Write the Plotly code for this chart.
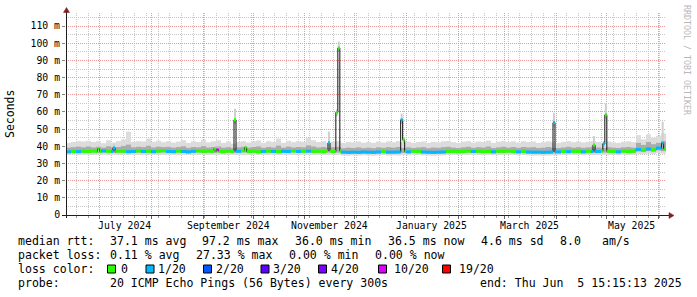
import pandas as pd
import plotly.graph_objects as go

START = pd.Timestamp("2024-06-10 15:15:13")
END = pd.Timestamp("2025-06-05 15:15:13")
BIN = pd.Timedelta(days=3)
SPIKE = pd.Timedelta(hours=28.8)
bin_start = pd.date_range(START, periods=120, freq="3D")

# median rtt per 3-day bin (ms)
med = [36.8, 37.0, 36.9, 37.1, 37.0, 37.2, 37.0, 37.3, 37.1, 37.0,
       37.2, 37.1, 36.9, 37.0, 37.3, 37.0, 37.1, 36.9, 37.2, 37.4,
       37.0, 36.9, 37.2, 37.0, 36.8, 37.1, 37.3, 37.0, 37.2, 37.0,
       37.1, 36.9, 37.2, 37.0, 37.1, 37.4, 37.0, 37.1, 36.9, 37.0,
       37.2, 37.0, 36.9, 37.1, 37.0, 37.3, 37.0, 37.1, 37.2, 37.0,
       37.1, 36.9, 37.2, 37.0, 37.3, 36.6, 36.5, 36.6, 36.5, 36.7,
       36.6, 36.5, 36.7, 36.9, 36.6, 36.6, 36.7, 37.0, 36.8, 37.1,
       37.0, 36.7, 36.6, 36.5, 36.6, 36.7, 37.0, 37.1, 36.9, 37.0,
       37.2, 37.0, 37.1, 36.9, 37.0, 36.8, 37.1, 37.0, 37.2, 37.0,
       36.8, 37.0, 36.7, 36.6, 36.6, 36.5, 36.6, 36.7, 36.8, 37.0,
       36.9, 37.1, 37.0, 36.8, 37.1, 36.9, 37.0, 37.2, 37.1, 37.0,
       36.8, 37.2, 37.0, 37.1, 38.2, 37.8, 38.5, 38.0, 39.0, 38.4]
# outer smoke (min / max of the pings)
lo = [35.0, 35.2, 34.8, 35.1, 35.0, 34.9, 35.2, 35.0, 34.8, 35.1,
      35.0, 35.1, 34.9, 35.0, 35.2, 34.8, 35.0, 35.1, 35.0, 34.9,
      35.1, 35.0, 34.8, 35.0, 35.2, 35.0, 34.9, 35.1, 35.0, 35.0,
      35.0, 35.2, 34.9, 35.0, 35.1, 34.8, 35.0, 35.1, 35.0, 34.9,
      35.0, 35.1, 34.9, 35.0, 35.2, 35.0, 34.8, 35.0, 35.1, 35.0,
      35.1, 35.0, 34.9, 35.0, 35.1, 34.6, 34.5, 34.7, 34.6, 34.8,
      34.6, 34.5, 34.7, 34.9, 34.6, 34.7, 34.6, 35.0, 34.8, 35.0,
      34.9, 34.7, 34.6, 34.5, 34.6, 34.7, 35.0, 35.1, 34.9, 35.0,
      35.1, 35.0, 35.0, 34.9, 35.0, 34.8, 35.1, 35.0, 35.1, 35.0,
      34.8, 35.0, 34.7, 34.6, 34.6, 34.5, 34.6, 34.7, 34.8, 35.0,
      34.9, 35.0, 35.0, 34.8, 35.1, 34.9, 35.0, 35.1, 35.0, 35.0,
      34.8, 35.1, 35.0, 35.0, 35.6, 35.4, 35.8, 35.5, 36.0, 35.7]
hi = [42.0, 42.5, 43.0, 42.8, 43.2, 42.5, 43.0, 41.8, 43.5, 42.2,
      43.0, 44.0, 48.5, 42.5, 43.0, 42.8, 44.5, 42.6, 43.3, 42.4,
      43.0, 42.2, 42.8, 43.6, 42.0, 43.0, 42.5, 43.8, 42.3, 42.9,
      43.5, 42.0, 42.8, 41.5, 42.6, 43.0, 42.2, 42.9, 43.4, 42.0,
      43.0, 42.5, 44.5, 42.0, 43.2, 42.4, 43.0, 42.6, 44.8, 43.5,
      42.5, 43.0, 42.0, 42.8, 43.0, 42.0, 42.6, 42.3, 42.8, 42.1,
      42.5, 42.0, 42.8, 42.2, 42.9, 42.4, 43.0, 42.3, 42.7, 42.0,
      42.5, 42.8, 42.0, 42.6, 42.3, 42.9, 43.1, 42.4, 42.0, 42.7,
      43.0, 42.2, 42.8, 42.5, 43.3, 42.0, 42.7, 43.0, 42.4, 42.9,
      42.2, 43.0, 42.5, 42.8, 42.0, 42.4, 42.9, 42.3, 42.0, 42.6,
      43.0, 42.4, 42.8, 42.2, 42.6, 43.1, 42.5, 42.0, 42.8, 42.3,
      42.0, 42.6, 42.9, 42.4, 46.5, 44.0, 47.0, 45.0, 46.0, 47.5]
# inner (dense) smoke
ilo = [36.0, 36.2, 36.0, 36.2, 36.1, 36.3, 36.1, 36.3, 36.2, 36.1,
       36.3, 36.2, 36.0, 36.1, 36.3, 36.1, 36.2, 36.0, 36.3, 36.4,
       36.1, 36.0, 36.3, 36.1, 35.9, 36.2, 36.4, 36.1, 36.3, 36.1,
       36.2, 36.0, 36.3, 36.1, 36.2, 36.4, 36.1, 36.2, 36.0, 36.1,
       36.3, 36.1, 36.0, 36.2, 36.1, 36.4, 36.1, 36.2, 36.3, 36.1,
       36.2, 36.0, 36.3, 36.1, 36.3, 35.7, 35.6, 35.7, 35.6, 35.8,
       35.7, 35.6, 35.8, 36.0, 35.7, 35.7, 35.8, 36.1, 35.9, 36.2,
       36.1, 35.8, 35.7, 35.6, 35.7, 35.8, 36.1, 36.2, 36.0, 36.1,
       36.3, 36.1, 36.2, 36.0, 36.1, 35.9, 36.2, 36.1, 36.3, 36.1,
       35.9, 36.1, 35.8, 35.7, 35.7, 35.6, 35.7, 35.8, 35.9, 36.1,
       36.0, 36.2, 36.1, 35.9, 36.2, 36.0, 36.1, 36.3, 36.2, 36.1,
       35.9, 36.3, 36.1, 36.2, 37.0, 36.8, 37.2, 36.9, 37.6, 37.2]
ihi = [39.2, 39.5, 39.8, 39.4, 39.9, 39.3, 39.7, 39.2, 40.0, 39.4,
       39.6, 40.2, 41.0, 39.4, 39.7, 39.5, 40.3, 39.3, 39.8, 39.5,
       39.7, 39.2, 39.6, 40.0, 39.1, 39.6, 39.4, 40.1, 39.3, 39.6,
       39.9, 39.2, 39.5, 38.9, 39.4, 39.7, 39.2, 39.6, 39.9, 39.1,
       39.6, 39.3, 40.4, 39.2, 39.8, 39.3, 39.6, 39.4, 40.5, 39.9,
       39.3, 39.6, 39.1, 39.5, 39.7, 38.9, 39.2, 39.0, 39.4, 38.9,
       39.2, 38.9, 39.4, 39.1, 39.5, 39.2, 39.6, 39.1, 39.4, 39.0,
       39.3, 39.5, 38.9, 39.3, 39.1, 39.5, 39.7, 39.2, 39.0, 39.4,
       39.7, 39.1, 39.5, 39.3, 39.9, 39.0, 39.4, 39.7, 39.2, 39.6,
       39.1, 39.6, 39.3, 39.5, 39.0, 39.2, 39.6, 39.1, 39.0, 39.3,
       39.7, 39.2, 39.5, 39.1, 39.4, 39.8, 39.3, 39.0, 39.5, 39.2,
       39.0, 39.4, 39.6, 39.2, 42.0, 40.8, 42.5, 41.2, 42.0, 43.0]
# lost pings (of 20) per bin
loss = [1, 0, 1, 0, 0, 0, 0, 1, 0, 1,
        0, 0, 1, 1, 0, 1, 0, 1, 0, 0,
        1, 1, 0, 1, 1, 1, 0, 0, 0, 0,
        0, 0, 0, 0, 1, 0, 0, 0, 0, 1,
        0, 1, 0, 1, 1, 0, 1, 0, 1, 0,
        0, 0, 0, 0, 0, 1, 1, 1, 1, 1,
        1, 1, 1, 0, 1, 1, 1, 0, 1, 0,
        0, 1, 1, 1, 1, 1, 0, 0, 0, 0,
        0, 1, 0, 0, 0, 1, 0, 0, 0, 0,
        1, 0, 1, 1, 1, 1, 1, 1, 1, 0,
        1, 0, 0, 1, 0, 1, 1, 0, 0, 0,
        1, 0, 0, 0, 1, 0, 1, 0, 1, 0]

# short latency events
spike_time = ["2024-06-30 03:15", "2024-07-09 10:27", "2024-09-08 00:51", "2024-09-09 15:15",
              "2024-09-20 00:51", "2024-09-26 10:27", "2024-11-15 10:27", "2024-11-20 03:15",
              "2024-11-21 08:03", "2024-12-29 00:51", "2024-12-30 05:39", "2025-03-30 10:27",
              "2025-04-23 10:27", "2025-04-29 08:03", "2025-04-30 12:51", "2025-06-03 15:15"]
spike_med = [38.6, 39.2, 38.6, 38.0, 55.4, 39.2, 42.0, 59.7, 97.2, 55.4, 43.7, 53.8, 40.8, 41.5, 58.3, 42.0]
spike_lo = [37.0, 37.5, 37.0, 36.5, 53.0, 37.5, 40.0, 57.5, 95.0, 53.0, 41.5, 51.5, 38.5, 39.5, 56.0, 39.5]
spike_hi = [40.5, 41.5, 40.0, 39.5, 61.8, 40.5, 48.6, 61.5, 101.0, 59.0, 45.0, 59.5, 46.0, 43.0, 65.0, 54.4]
spike_loss = [0, 1, 0, 10, 0, 0, 1, 0, 0, 1, 0, 1, 0, 1, 0, 1]

month_labels = ["July 2024", "September 2024", "November 2024", "January 2025", "March 2025", "May 2025"]
month_centers = ["2024-07-16", "2024-09-16", "2024-11-16", "2025-01-16", "2025-03-16", "2025-05-16"]
y_ticks = [0, 10, 20, 30, 40, 50, 60, 70, 80, 90, 100, 110]
y_text = ["0", "10 m", "20 m", "30 m", "40 m", "50 m", "60 m", "70 m", "80 m", "90 m", "100 m", "110 m"]

loss_levels = [0, 1, 2, 3, 4, 10, 19]
loss_labels = ["0", "1/20", "2/20", "3/20", "4/20", "10/20", "19/20"]
loss_colors = ["#26ff00", "#00b8ff", "#0059ff", "#5e00ff", "#7e00ff", "#dd00ff", "#ff0000"]

legend_rows = [
    [(15.7, "median rtt:"), (107.7, "37.1 ms avg"), (200.0, "97.2 ms max"), (292.7, "36.0 ms min"),
     (386.0, "36.5 ms now"), (478.5, "4.6 ms sd"), (558.3, "8.0"), (600.0, "am/s")],
    [(15.7, "packet loss:"), (107.7, "0.11 % avg"), (193.8, "27.33 % max"), (287.3, "0.00 % min"),
     (372.5, "0.00 % now")],
    [(15.7, "loss color:")],
    [(15.7, "probe:"), (107.7, "20 ICMP Echo Pings (56 Bytes) every 300s"),
     (478.3, "end: Thu Jun  5 15:15:13 2025")],
]
row_y = [241, 255, 269, 283]
sq_x = [107.5, 146.0, 203.5, 261.0, 318.5, 378.5, 442.5]
sq_lbl_x = [119.3, 155.5, 213.5, 270.5, 328.5, 391.5, 456.5]

MONO = "DejaVu Sans Mono"
L, T, W, H = 66, 13, 600, 202


def px(x):
    return (x - L) / W


def py(y):
    return (T + H - y) / H


def loss_color(n):
    c = loss_colors[0]
    for lv, col in zip(loss_levels, loss_colors):
        if n >= lv:
            c = col
    return c


fig = go.Figure()
ms = lambda td: td / pd.Timedelta(milliseconds=1)

# smoke
fig.add_trace(go.Bar(x=list(bin_start), base=lo, y=[h - l for h, l in zip(hi, lo)],
                     width=ms(BIN), offset=0, marker=dict(color="#dcdcdc", line=dict(width=0)),
                     hoverinfo="skip", showlegend=False))
fig.add_trace(go.Bar(x=list(bin_start), base=ilo, y=[h - l for h, l in zip(ihi, ilo)],
                     width=ms(BIN), offset=0, marker=dict(color="#ababab", line=dict(width=0)),
                     hoverinfo="skip", showlegend=False))
sp_start = [pd.Timestamp(t) - SPIKE / 2 for t in spike_time]
fig.add_trace(go.Bar(x=sp_start, base=spike_lo, y=[h - l for h, l in zip(spike_hi, spike_lo)],
                     width=ms(SPIKE), offset=0, marker=dict(color="#cfcfcf", line=dict(width=0)),
                     hoverinfo="skip", showlegend=False))

# median segments (bins with spikes inserted)
segs = [(bin_start[k], bin_start[k] + BIN, med[k], loss[k]) for k in range(len(med))]
for s, v, ls in zip(sp_start, spike_med, spike_loss):
    e = s + SPIKE
    new = []
    for a, b, m, l in segs:
        if b <= s or a >= e:
            new.append((a, b, m, l))
            continue
        if a < s:
            new.append((a, s, m, l))
        if b > e:
            new.append((e, b, m, l))
    new.append((s, e, v, ls))
    segs = sorted(new, key=lambda r: r[0])

fig.add_trace(go.Scatter(x=[a for a, b, m, l in segs] + [segs[-1][1]],
                         y=[m for a, b, m, l in segs] + [segs[-1][2]],
                         mode="lines", line=dict(color="#111111", width=1, shape="hv"),
                         hoverinfo="skip", showlegend=False))
for col in loss_colors:
    xs, ys = [], []
    for a, b, m, l in segs:
        if loss_color(l) == col:
            xs += [a, b, None]
            ys += [m, m, None]
    if xs:
        fig.add_trace(go.Scatter(x=xs, y=ys, mode="lines", line=dict(color=col, width=3),
                                 hoverinfo="skip", showlegend=False, connectgaps=False))

ann = []
for lbl, c in zip(month_labels, month_centers):
    ann.append(dict(x=c, xref="x", y=py(225), yref="paper", text=lbl.replace(" ", "\u00a0"),
                    showarrow=False, xanchor="center", yanchor="middle",
                    font=dict(family=MONO, size=9.8, color="#000")))
for row, yy in zip(legend_rows, row_y):
    for xx, txt in row:
        ann.append(dict(x=px(xx), xref="paper", y=py(yy), yref="paper", text=txt.replace(" ", "\u00a0"),
                        showarrow=False, xanchor="left", yanchor="middle",
                        font=dict(family=MONO, size=11.55, color="#000")))
for xx, txt in zip(sq_lbl_x, loss_labels):
    ann.append(dict(x=px(xx), xref="paper", y=py(269), yref="paper", text=txt,
                    showarrow=False, xanchor="left", yanchor="middle",
                    font=dict(family=MONO, size=11.55, color="#000")))
ann.append(dict(x=px(10), xref="paper", y=py(114), yref="paper", text="Seconds", textangle=-90,
                showarrow=False, xanchor="center", yanchor="middle",
                font=dict(family=MONO, size=11.5, color="#000")))
ann.append(dict(x=px(687), xref="paper", y=py(60), yref="paper", text="RRDTOOL / TOBI OETIKER".replace(" ", "\u00a0"),
                textangle=90, showarrow=False, xanchor="center", yanchor="middle",
                font=dict(family=MONO, size=8.3, color="#b8b8b8")))

shapes = []
for xx, col in zip(sq_x, loss_colors):
    shapes.append(dict(type="rect", xref="paper", yref="paper", x0=px(xx), x1=px(xx + 8),
                       y0=py(273), y1=py(265), fillcolor=col, line=dict(color="#000", width=1)))
shapes.append(dict(type="line", xref="paper", yref="paper", x0=px(62), x1=px(669), y0=py(215.5), y1=py(215.5),
                   line=dict(color="#1f1f1f", width=1)))
shapes.append(dict(type="line", xref="paper", yref="paper", x0=px(66.5), x1=px(66.5), y0=py(218), y1=py(12),
                   line=dict(color="#1f1f1f", width=1)))


def path(pts):
    return "M " + " L ".join(f"{px(a):.6f},{py(b):.6f}" for a, b in pts) + " Z"


shapes.append(dict(type="path", xref="paper", yref="paper", path=path([(63.5, 12.5), (69.5, 12.5), (66.5, 7.5)]),
                   fillcolor="#801f1f", line=dict(color="#801f1f", width=0.5)))
shapes.append(dict(type="path", xref="paper", yref="paper", path=path([(669, 212.5), (669, 218.5), (674, 215.5)]),
                   fillcolor="#801f1f", line=dict(color="#801f1f", width=0.5)))

fig.update_layout(
    width=697, height=297, margin=dict(l=L, r=697 - L - W, t=T, b=297 - T - H),
    paper_bgcolor="#ffffff", plot_bgcolor="#ffffff", barmode="overlay", showlegend=False,
    annotations=ann, shapes=shapes,
    xaxis=dict(type="date", range=[START, END], tickmode="linear", tick0="2024-07-01", dtick="M1",
               showticklabels=False, showgrid=True, gridcolor="#e89a9a", griddash="1px,1px", gridwidth=1,
               ticks="outside", ticklen=3, tickcolor="#666", zeroline=False, showline=False,
               minor=dict(tick0="2024-06-10", dtick=7 * 86400000, showgrid=True, gridcolor="#c8c8c8",
                          griddash="1px,1px", ticks="outside", ticklen=2, tickcolor="#999")),
    yaxis=dict(range=[0, 117.6], tickmode="array", tickvals=y_ticks, ticktext=y_text,
               showgrid=True, gridcolor="#e89a9a", griddash="1px,1px", gridwidth=1,
               ticks="outside", ticklen=3, tickcolor="#888", zeroline=False, showline=False,
               tickfont=dict(family=MONO, size=9.8, color="#000"),
               minor=dict(dtick=5, showgrid=True, gridcolor="#c8c8c8", griddash="1px,1px")),
)
fig.write_html("out.html")
